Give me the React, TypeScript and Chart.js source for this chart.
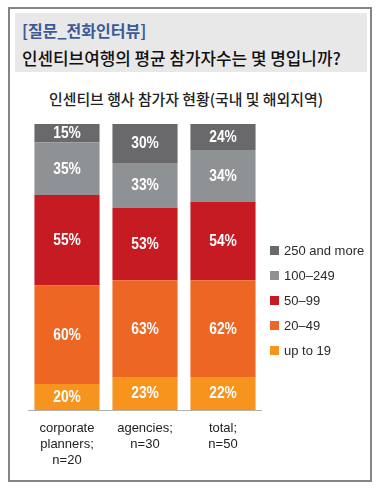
import React, { useEffect, useRef } from "react";
import { Chart, registerables } from "chart.js";

Chart.register(...registerables);

const categories: string[][] = [
  ["corporate", "planners;", "n=20"],
  ["agencies;", "n=30"],
  ["total;", "n=50"],
];

const seriesNames = ["up to 19", "20\u201349", "50\u201399", "100\u2013249", "250 and more"];
const seriesColors = ["#f7941e", "#ee6624", "#c61b22", "#8f9295", "#69696b"];

// Segment heights (share of each bar, %)
const upTo19 = [9.1, 11.5, 11.5];
const from20to49 = [34.4, 33.9, 33.9];
const from50to99 = [31.7, 25.3, 27.4];
const from100to249 = [18.3, 15.7, 18.1];
const from250 = [6.5, 13.6, 9.1];

// Printed labels on the segments
const upTo19Labels = [20, 23, 22];
const from20to49Labels = [60, 63, 62];
const from50to99Labels = [55, 53, 54];
const from100to249Labels = [35, 33, 34];
const from250Labels = [15, 30, 24];

const seriesValues = [upTo19, from20to49, from50to99, from100to249, from250];
const seriesLabels = [upTo19Labels, from20to49Labels, from50to99Labels, from100to249Labels, from250Labels];

const FONT = '"Liberation Sans", Arial, Helvetica, sans-serif';

const segmentLabelPlugin = {
  id: "segmentLabels",
  afterDatasetsDraw(chart: any) {
    const ctx = chart.ctx;
    ctx.save();
    ctx.fillStyle = "#ffffff";
    ctx.font = `bold 16px ${FONT}`;
    ctx.textAlign = "center";
    ctx.textBaseline = "middle";
    chart.data.datasets.forEach((ds: any, di: number) => {
      const meta = chart.getDatasetMeta(di);
      meta.data.forEach((el: any, i: number) => {
        const y = (el.y + el.base) / 2;
        ctx.save();
        ctx.translate(el.x, y + 0.5);
        ctx.scale(0.86, 1);
        ctx.fillText(`${ds.printed[i]}%`, 0, 0);
        ctx.restore();
      });
    });
    ctx.restore();
  },
};

const axisAndLegendPlugin = {
  id: "axisLegend",
  afterDraw(chart: any) {
    const ctx = chart.ctx;
    const area = chart.chartArea;
    ctx.save();
    ctx.strokeStyle = "#b0b0b0";
    ctx.lineWidth = 1;
    ctx.beginPath();
    ctx.moveTo(area.left, area.bottom + 0.5);
    ctx.lineTo(area.right, area.bottom + 0.5);
    ctx.stroke();

    const n = chart.data.datasets.length;
    const x0 = area.right + 8;
    const yStart = area.top + 126.7;
    ctx.font = `13px ${FONT}`;
    ctx.textAlign = "left";
    ctx.textBaseline = "middle";
    for (let k = 0; k < n; k++) {
      const ds = chart.data.datasets[n - 1 - k];
      const yc = yStart + k * 25;
      ctx.fillStyle = ds.backgroundColor;
      ctx.fillRect(x0, Math.round(yc - 4.5), 9, 9);
      ctx.fillStyle = "#2a2a2a";
      ctx.fillText(ds.label, x0 + 14, yc + 0.5);
    }
    ctx.restore();
  },
};

export default function App() {
  const canvasRef = useRef<HTMLCanvasElement | null>(null);

  useEffect(() => {
    if (!canvasRef.current) return;
    const chart = new Chart(canvasRef.current, {
      type: "bar",
      data: {
        labels: categories as any,
        datasets: seriesNames.map((name, i) => ({
          label: name,
          data: seriesValues[i],
          printed: seriesLabels[i],
          backgroundColor: seriesColors[i],
          borderWidth: 0,
          categoryPercentage: 1,
          barPercentage: 0.835,
        })) as any,
      },
      options: {
        responsive: false,
        animation: false,
        devicePixelRatio: 1,
        layout: { padding: { left: 18, right: 108, top: 14, bottom: 0 } },
        plugins: {
          legend: { display: false },
          tooltip: { enabled: false },
          title: { display: false },
        },
        scales: {
          x: {
            stacked: true,
            grid: { display: false },
            border: { display: false },
            ticks: {
              color: "#222222",
              font: { family: FONT, size: 13, lineHeight: 1.25 },
              padding: 2,
              maxRotation: 0,
              autoSkip: false,
            },
            afterFit: (scale: any) => {
              scale.height = 68;
            },
          },
          y: {
            stacked: true,
            display: false,
            min: 0,
            max: 100,
          },
        },
      },
      plugins: [segmentLabelPlugin, axisAndLegendPlugin],
    });
    return () => chart.destroy();
  }, []);

  const cjk = '"Noto Sans CJK KR", "Noto Sans CJK SC", sans-serif';

  return (
    <div style={{ position: "absolute", left: 0, top: 0, width: 382, height: 492, background: "#ffffff" }}>
      <div
        style={{
          position: "absolute",
          left: 8,
          top: 7,
          width: 364,
          height: 475,
          boxSizing: "border-box",
          border: "2px solid #858585",
        }}
      />
      <div
        style={{
          position: "absolute",
          left: 15,
          top: 13,
          width: 352,
          height: 59,
          background: "#e8e8e8",
        }}
      />
      <div
        style={{
          position: "absolute",
          left: 22,
          top: 21.5,
          fontFamily: cjk,
          fontWeight: 700,
          fontSize: 16,
          lineHeight: "16px",
          color: "#3d5a98",
          whiteSpace: "nowrap",
        }}
      >
        [질문_전화인터뷰]
      </div>
      <div
        style={{
          position: "absolute",
          left: 22,
          top: 48.5,
          fontFamily: cjk,
          fontWeight: 500,
          fontSize: 16.9,
          lineHeight: "17px",
          color: "#111111",
          whiteSpace: "nowrap",
        }}
      >
        인센티브여행의 평균 참가자수는 몇 명입니까?
      </div>
      <div
        style={{
          position: "absolute",
          left: 0,
          width: 372,
          top: 90.5,
          textAlign: "center",
          fontFamily: cjk,
          fontWeight: 500,
          fontSize: 14.9,
          lineHeight: "15px",
          color: "#222222",
          whiteSpace: "nowrap",
        }}
      >
        인센티브 행사 참가자 현황(국내 및 해외지역)
      </div>
      <canvas
        ref={canvasRef}
        width={360}
        height={368}
        style={{ position: "absolute", left: 10, top: 110, width: 360, height: 368 }}
      />
    </div>
  );
}
